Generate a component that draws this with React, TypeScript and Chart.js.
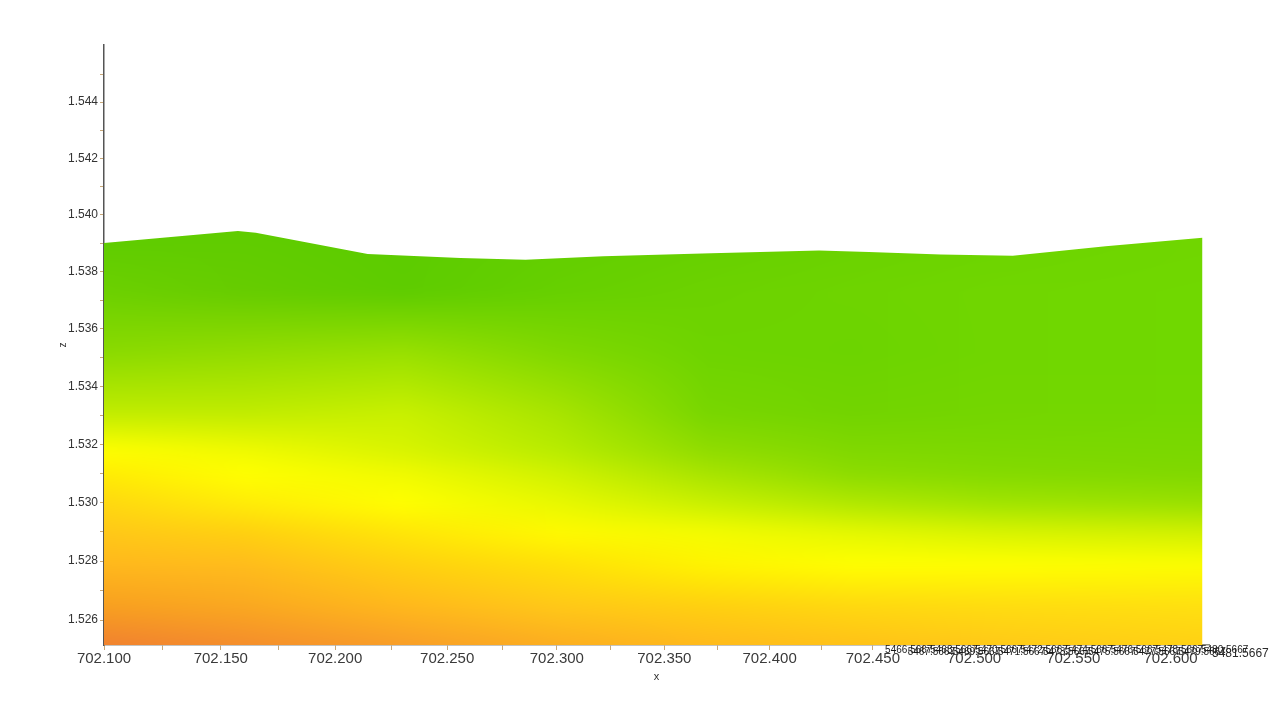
import React, { useEffect, useRef } from 'react';
import { Chart, registerables, LinearScale } from 'chart.js';

// ---- data ----
const surfaceX = [702.100, 702.1574, 702.1652, 702.2144, 702.2560, 702.2856, 702.3215, 702.3721, 702.4238, 702.4481, 702.4834, 702.5194, 702.5665, 702.6166];
const surfaceZ = [1.53901, 1.53943, 1.53937, 1.53862, 1.53848, 1.53842, 1.53854, 1.53865, 1.53874, 1.53869, 1.53860, 1.53856, 1.53889, 1.53919];

const xMajorTicks = [702.100, 702.150, 702.200, 702.250, 702.300, 702.350, 702.400, 702.450, 702.500, 702.550, 702.600];
const xMinorTicks = [702.125, 702.175, 702.225, 702.275, 702.325, 702.375, 702.425, 702.475, 702.525, 702.575];
const zMajorTicks = [1.526, 1.528, 1.530, 1.532, 1.534, 1.536, 1.538, 1.540, 1.542, 1.544];
const zMinorTicks = [1.527, 1.529, 1.531, 1.533, 1.535, 1.537, 1.539, 1.541, 1.543, 1.545];
const depthTickLabels = ['5466.5667', '5467.5667', '5468.5667', '5469.5667', '5470.5667', '5471.5667', '5472.5667', '5473.5667', '5474.5667', '5475.5667', '5476.5667', '5477.5667', '5478.5667', '5479.5667', '5480.5667'];
const depthEndLabel = '5481.5667';

const xRange = [702.1, 702.62];
const zRange = [1.525155, 1.546041];

// ---- colour field of the surface (style) ----
const colorFieldX = [702.10, 702.16, 702.23, 702.30, 702.37, 702.44, 702.51, 702.62];
const colorFieldZ = [1.5391, 1.5373, 1.5352, 1.5331, 1.5318, 1.5310, 1.5300, 1.5290, 1.5279, 1.5265, 1.5251];
const colorFieldRows = [
  ['#5fcc00', '#60cc00', '#5ccc00', '#62ce00', '#66d000', '#6ad200', '#6cd400', '#70d600'],
  ['#6cd000', '#66cc00', '#5ecc00', '#66d000', '#6cd200', '#6ed400', '#70d600', '#70d800'],
  ['#8ada00', '#92dc00', '#98e000', '#80d800', '#6ed400', '#6cd400', '#70d600', '#70d800'],
  ['#c0ec00', '#c0ec00', '#c8f000', '#a8e400', '#78d600', '#72d400', '#74d600', '#74d800'],
  ['#ffff00', '#f0fa00', '#d8f400', '#b8ec00', '#90dc00', '#80d800', '#7cd800', '#7ad800'],
  ['#ffec04', '#ffff00', '#f0fa00', '#d0f200', '#a8e400', '#8cdc00', '#84da00', '#80d800'],
  ['#ffd810', '#ffec08', '#ffff00', '#e8f800', '#c8f000', '#b0e800', '#a0e400', '#98e000'],
  ['#ffc818', '#ffd010', '#ffe608', '#fffa00', '#f4fc00', '#e4f800', '#d8f400', '#d0f000'],
  ['#ffb81c', '#ffbc1c', '#ffd010', '#ffe008', '#fff400', '#ffff00', '#ffff00', '#fcfe00'],
  ['#f8a020', '#faa820', '#ffb81c', '#ffc818', '#ffd010', '#ffd810', '#ffdc10', '#ffe010'],
  ['#f08030', '#f48c2c', '#f89c28', '#fcac20', '#ffb81c', '#ffc018', '#ffc818', '#ffd014'],
];

const FONT = "'Liberation Sans', Arial, sans-serif";

class PerspectiveScale extends LinearScale {
  static id = 'perspective';
  getPixelForDecimal(decimal: number) {
    const k = (this.options as any).warp || 0;
    const w = (decimal * (1 + k)) / (1 + k * decimal);
    return super.getPixelForDecimal(w);
  }
  getDecimalForPixel(pixel: number) {
    const k = (this.options as any).warp || 0;
    const w = super.getDecimalForPixel(pixel);
    return w / (1 + k - k * w);
  }
}

Chart.register(...registerables, PerspectiveScale as any);

const hexToRgb = (h: string) => [parseInt(h.slice(1, 3), 16), parseInt(h.slice(3, 5), 16), parseInt(h.slice(5, 7), 16)];

const patternCache = new WeakMap<any, { key: string; pattern: any }>();

function locate(arr: number[], p: number) {
  let i = 0;
  while (i < arr.length - 2 && p > arr[i + 1]) i++;
  const span = arr[i + 1] - arr[i];
  let t = span === 0 ? 0 : (p - arr[i]) / span;
  t = Math.max(0, Math.min(1, t));
  return [i, t];
}

function surfacePattern(chart: any) {
  const area = chart.chartArea;
  if (!area || !chart.scales.x || !chart.scales.y) return '#6cd000';
  const W = chart.width;
  const H = chart.height;
  const key = `${W}x${H}:${area.left},${area.top},${area.right},${area.bottom}`;
  const cached = patternCache.get(chart);
  if (cached && cached.key === key) return cached.pattern;

  const xs = colorFieldX.map((v) => chart.scales.x.getPixelForValue(v));
  const ys = colorFieldZ.map((v) => chart.scales.y.getPixelForValue(v));
  const rgb = colorFieldRows.map((r) => r.map(hexToRgb));

  const c1 = document.createElement('canvas');
  c1.width = W;
  c1.height = H;
  const g1 = c1.getContext('2d')!;
  const img = g1.createImageData(W, H);
  const colIdx: number[][] = [];
  for (let px = 0; px < W; px++) colIdx.push(locate(xs, px));
  for (let py = 0; py < H; py++) {
    const [j, u] = locate(ys, py);
    const r0 = rgb[j];
    const r1 = rgb[j + 1];
    for (let px = 0; px < W; px++) {
      const [i, t] = colIdx[px];
      const o = (py * W + px) * 4;
      for (let c = 0; c < 3; c++) {
        const a = r0[i][c] * (1 - t) + r0[i + 1][c] * t;
        const b = r1[i][c] * (1 - t) + r1[i + 1][c] * t;
        img.data[o + c] = a * (1 - u) + b * u;
      }
      img.data[o + 3] = 255;
    }
  }
  g1.putImageData(img, 0, 0);

  const c2 = document.createElement('canvas');
  c2.width = W;
  c2.height = H;
  const g2 = c2.getContext('2d')!;
  g2.filter = 'blur(7px)';
  g2.drawImage(c1, 0, 0);
  g2.filter = 'none';

  const pattern = chart.ctx.createPattern(c2, 'no-repeat');
  patternCache.set(chart, { key, pattern });
  return pattern;
}

const depthLabelsPlugin = {
  id: 'depthLabels',
  afterDraw(chart: any) {
    const { ctx, chartArea, scales } = chart;
    const x0 = scales.x.getPixelForValue(702.456);
    const x1 = chartArea.right - 8;
    ctx.save();
    ctx.fillStyle = '#1a1a1a';
    ctx.textBaseline = 'middle';
    ctx.textAlign = 'left';
    ctx.font = `10px ${FONT}`;
    const n = depthTickLabels.length;
    depthTickLabels.forEach((label, i) => {
      const x = x0 + ((x1 - x0) * i) / (n - 1);
      ctx.fillText(label, x, chartArea.bottom + 5 + (i % 2) * 2);
    });
    ctx.font = `12px ${FONT}`;
    ctx.fillStyle = '#2a2a2a';
    ctx.fillText(depthEndLabel, chartArea.right + 3, chartArea.bottom + 9);
    ctx.restore();
  },
};

export default function App() {
  const ref = useRef<HTMLCanvasElement>(null);
  useEffect(() => {
    if (!ref.current) return;
    const xAll = [...xMajorTicks, ...xMinorTicks].sort((a, b) => a - b);
    const zAll = [...zMajorTicks, ...zMinorTicks].sort((a, b) => a - b);
    const isMajor = (list: number[], v: number) => list.some((m) => Math.abs(m - v) < 1e-7);
    const chart = new Chart(ref.current, {
      type: 'line',
      data: {
        datasets: [
          {
            label: 'surface',
            data: surfaceX.map((x, i) => ({ x, y: surfaceZ[i] })),
            fill: 'start',
            backgroundColor: (c: any) => surfacePattern(c.chart),
            borderColor: 'rgba(0,0,0,0)',
            borderWidth: 0,
            pointRadius: 0,
            tension: 0,
          },
        ],
      },
      options: {
        animation: false,
        responsive: false,
        events: [],
        layout: { padding: { left: 0, right: 64, top: 45, bottom: 0 } },
        plugins: { legend: { display: false }, tooltip: { enabled: false } },
        scales: {
          x: {
            type: 'perspective' as any,
            position: 'bottom',
            min: xRange[0],
            max: xRange[1],
            warp: 0.111,
            afterBuildTicks: (s: any) => {
              s.ticks = xAll.map((v) => ({ value: v }));
            },
            afterFit: (s: any) => {
              s.height = 65;
            },
            ticks: {
              autoSkip: false,
              maxRotation: 0,
              padding: 0,
              color: '#3a3a3a',
              font: { family: FONT, size: 15 },
              callback: (v: any) => (isMajor(xMajorTicks, Number(v)) ? Number(v).toFixed(3) : ''),
            },
            grid: { drawOnChartArea: false, color: '#c8a878', tickLength: 5 },
            border: { display: true, color: '#8c8a80', width: 1.5 },
            title: { display: true, text: 'x', color: '#333', font: { family: FONT, size: 11 }, padding: { top: 0, bottom: 26 } },
          } as any,
          y: {
            type: 'perspective' as any,
            position: 'left',
            min: zRange[0],
            max: zRange[1],
            warp: 0.031,
            afterBuildTicks: (s: any) => {
              s.ticks = zAll.map((v) => ({ value: v }));
            },
            afterFit: (s: any) => {
              s.width = 104;
            },
            ticks: {
              autoSkip: false,
              padding: 2,
              color: '#333',
              font: { family: FONT, size: 12 },
              callback: (v: any) => (isMajor(zMajorTicks, Number(v)) ? Number(v).toFixed(3) : ''),
            },
            grid: { drawOnChartArea: false, color: '#c8a878', tickLength: 4 },
            border: { display: true, color: '#555', width: 1.5 },
            title: { display: true, text: 'z', color: '#333', font: { family: FONT, size: 10 }, padding: { top: 57, bottom: 0 } },
          } as any,
        },
      } as any,
      plugins: [depthLabelsPlugin],
    });
    return () => chart.destroy();
  }, []);
  return (
    <div style={{ position: 'fixed', left: 0, top: 0, width: 1273, height: 710, background: '#fff' }}>
      <canvas ref={ref} width={1273} height={710} style={{ display: 'block' }} />
    </div>
  );
}
